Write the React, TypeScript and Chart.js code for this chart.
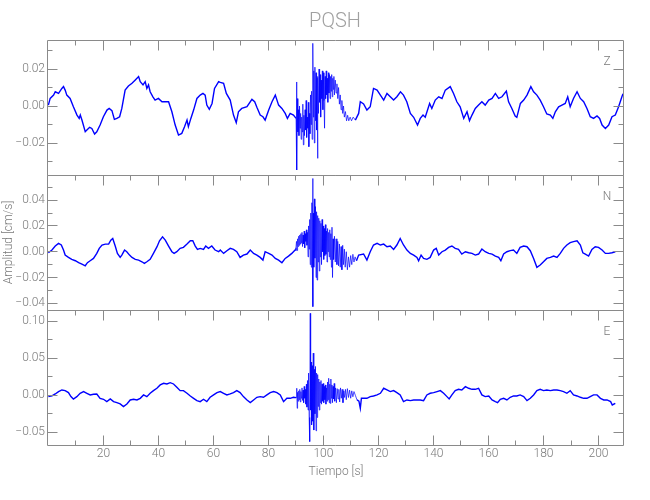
import { useEffect, useRef } from "react";
import { Chart, registerables } from "chart.js";

Chart.register(...registerables);

// ---------- data ----------
const chartTitle = "PQSH";
const xAxisTitle = "Tiempo [s]";
const yAxisTitle = "Amplitud [cm/s]";
const componentNames = ["Z", "N", "E"];

const timeRange = [-0.5, 208.9];
const xMajorTicks = [20, 40, 60, 80, 100, 120, 140, 160, 180, 200];
const xMinorTicks = [10, 30, 50, 70, 90, 110, 130, 150, 170, 190];

const zRange = [-0.0373, 0.0357];
const zMajorTicks = [-0.02, 0, 0.02];
const zMinorTicks = [-0.03, -0.01, 0.01, 0.03];

const nRange = [-0.0452, 0.0595];
const nMajorTicks = [-0.04, -0.02, 0, 0.02, 0.04];
const nMinorTicks = [-0.03, -0.01, 0.01, 0.03, 0.05];

const eRange = [-0.0672, 0.1153];
const eMajorTicks = [-0.05, 0, 0.05, 0.1];
const eMinorTicks = [-0.025, 0.025, 0.075];

// [time s, amplitude cm/s]
const zSamples: [number, number][] = [
  [0, 0.0005], [0.65, 0.0041], [1.9, 0.0059], [2.5, 0.0077], [3.7, 0.0068], [4.9, 0.0095], [5.5, 0.0105],
  [6.1, 0.0086], [6.7, 0.0059], [7.9, 0.0041], [9.1, -0.0004], [10.4, -0.0049], [11.2, -0.0067], [11.6, -0.0049],
  [12.2, -0.0076], [13.4, -0.0139], [14, -0.013], [15, -0.0115], [15.8, -0.0121], [16.8, -0.0151], [17.6, -0.0139],
  [18.8, -0.0103], [20, -0.0058], [21.3, -0.0022], [22.1, -0.0013], [23.1, -0.0025], [24, -0.0072], [24.9, -0.0067],
  [25.9, -0.0058], [26.7, -0.0013], [27.9, 0.0086], [29.1, 0.0108], [30.4, 0.0123], [31.6, 0.0141], [32.8, 0.0159],
  [33.4, 0.0132], [34.4, 0.0114], [35.2, 0.0132], [35.8, 0.0095], [36.4, 0.0114], [37, 0.0077], [38, 0.005],
  [38.8, 0.0032], [40, 0.0041], [41.3, 0.0023], [42.5, 0.0023], [43.7, 0.0023], [44.9, -0.0031], [46.1, -0.0103],
  [47.3, -0.0157], [48.5, -0.0148], [49.5, -0.0112], [50.4, -0.0076], [50.9, -0.0112], [51.8, -0.0067], [52.8, -0.0022],
  [54, 0.0041], [55.2, 0.0059], [56.2, 0.0068], [57, 0.0059], [57.6, 0.0005], [58.5, -0.0018], [59.5, 0.0014],
  [60.4, 0.0095], [61.9, 0.0132], [62.5, 0.0128], [63.7, 0.0123], [64.7, 0.0068], [66.1, 0.0032], [67.3, -0.0049],
  [68.3, -0.009], [69.1, -0.0031], [70.3, -0.0013], [72.2, -0.0004], [74, 0.0036], [75, 0.0023], [75.8, -0.0007],
  [77, -0.0049], [78, -0.0058], [78.8, -0.0076], [80.1, -0.0022], [81.3, 0.0023], [82.5, 0.0059], [83.7, 0.0005],
  [84.9, -0.0013], [86.1, -0.004], [86.9, -0.0067], [87.9, -0.004], [89.1, -0.0049], [90.05, -0.0067],
  [90.2, 0.013], [90.35, -0.0346], [90.5, 0.004], [90.7, -0.014], [90.9, -0.002], [91.1, -0.016], [91.3, 0.0],
  [91.5, -0.012], [91.7, -0.004], [91.9, -0.018], [92.1, -0.006], [92.3, -0.014], [92.5, 0.001], [92.7, -0.021],
  [92.9, -0.005], [93.1, -0.016], [93.3, -0.002], [93.5, -0.013], [93.7, 0.003], [93.9, -0.017], [94.1, -0.006],
  [94.3, -0.012], [94.5, 0.002], [94.7, -0.022], [94.9, -0.004], [95.1, -0.015], [95.3, 0.006], [95.5, -0.01],
  [95.7, 0.008], [95.9, -0.018], [96.05, 0.012], [96.2, 0.0339], [96.35, -0.006], [96.5, 0.019], [96.7, -0.02],
  [96.9, 0.021], [97.1, -0.008], [97.3, 0.018], [97.5, -0.013], [97.7, 0.015], [97.85, -0.0283], [98.0, 0.016],
  [98.2, -0.004], [98.4, 0.02], [98.6, 0.002], [98.8, 0.017], [99.0, -0.006], [99.2, 0.014], [99.4, 0.004],
  [99.6, 0.019], [99.8, -0.002], [100.0, 0.018], [100.2, 0.003], [100.4, -0.012], [100.6, 0.016], [100.8, 0.004],
  [101.0, 0.019], [101.2, 0.006], [101.4, 0.015], [101.6, 0.002], [101.8, 0.018], [102.0, 0.007], [102.2, 0.017],
  [102.4, 0.004], [102.6, 0.016], [102.8, 0.008], [103.0, 0.017], [103.2, 0.005], [103.4, 0.015], [103.6, 0.009],
  [103.8, 0.016], [104.0, 0.006], [104.3, 0.014], [104.6, 0.007], [104.9, 0.012], [105.2, 0.004], [105.5, 0.01],
  [105.8, 0.001], [106.1, 0.006], [106.4, -0.002], [106.7, 0.003], [107.0, -0.004], [107.3, 0.0], [107.6, -0.006],
  [108.0, -0.003], [108.4, -0.008], [108.8, -0.005], [109.2, -0.008], [109.7, -0.006], [110.2, -0.008],
  [110.8, -0.006], [111.6, -0.0076],
  [112.8, -0.004], [113.4, 0.0023], [114.6, 0.0011], [115.8, -0.0022], [117, -0.0004], [118.2, 0.0095],
  [119.5, 0.0086], [120.7, 0.0059], [121.9, 0.0032], [123.1, 0.0068], [124.3, 0.005], [125.5, 0.0032],
  [126.7, 0.005], [128, 0.0077], [129.1, 0.0059], [130.3, 0.0023], [131.6, -0.004], [132.8, -0.0061],
  [134.2, -0.0103], [135.2, -0.0067], [136.2, -0.0049], [137, -0.0061], [138.6, 0.0014], [139.4, -0.0013],
  [140.65, 0.0032], [141.9, 0.005], [143.1, 0.0041], [144.3, 0.0086], [146.1, 0.0105], [147.3, 0.0068],
  [148.5, 0.0023], [149.7, -0.0004], [151, -0.0067], [152.2, -0.0031], [153.1, -0.0079], [154, -0.0049],
  [155.2, -0.0013], [156.4, 0.0005], [157.6, 0.0023], [158.8, 0.0005], [160.1, 0.0032], [161.3, 0.0041],
  [162.5, 0.0068], [163.7, 0.0041], [164.9, 0.005], [166.5, 0.0081], [167.3, 0.0023], [168.5, -0.0013],
  [169.7, -0.0054], [170.3, -0.0061], [171.6, 0.0014], [172.8, 0.0032], [174, 0.0059], [175.4, 0.0105],
  [176.4, 0.0077], [177.6, 0.0059], [178.8, 0.0032], [180, -0.0004], [181.2, -0.0043], [182.5, -0.0049],
  [183.4, -0.0067], [184.3, -0.0031], [185.5, -0.0004], [186.7, 0.0005], [187.9, 0.0014], [188.8, 0.005],
  [189.7, -0.0004], [190.9, 0.0041], [192.2, 0.0077], [193.4, 0.0041], [194.6, 0.0023], [195.8, -0.0013],
  [197, -0.0058], [198.2, -0.0067], [199.45, -0.0054], [200.4, -0.0067], [201.3, -0.0103], [202.5, -0.0121],
  [203.7, -0.0103], [204.9, -0.0058], [206.1, -0.0049], [207.3, -0.0004], [208.5, 0.005], [208.9, 0.0066],
];

const nSamples: [number, number][] = [
  [0, -0.0008], [1.3, 0.0013], [2.5, 0.0044], [3.7, 0.0065], [4.7, 0.0052], [5.5, 0.0013], [6.1, -0.0026],
  [7.3, -0.0044], [8.5, -0.0059], [9.8, -0.007], [11, -0.0085], [12.2, -0.0096], [13.4, -0.0109], [14.2, -0.0085],
  [15.2, -0.007], [16.4, -0.0052], [17.6, -0.0013], [18.5, 0.0026], [19.5, 0.0052], [20.7, 0.0059], [21.9, 0.0059],
  [22.7, 0.009], [23.4, 0.0103], [24.3, 0.0044], [25.1, -0.0013], [26.1, -0.0044], [26.7, -0.0026], [27.7, 0.0013],
  [28.5, 0.0], [29.5, -0.0026], [30.4, -0.0044], [31.6, -0.0059], [32.8, -0.0065], [34, -0.0078], [34.9, -0.009],
  [35.8, -0.0078], [37, -0.0059], [38.2, -0.0013], [39.5, 0.0039], [40.4, 0.0085], [41.5, 0.0116], [42.5, 0.009],
  [43.7, 0.0044], [44.9, 0.0], [45.7, -0.0013], [46.7, 0.0], [47.9, 0.0026], [49.1, 0.0034], [50.4, 0.0059],
  [51.6, 0.0085], [52.5, 0.0085], [53.4, 0.0044], [54.2, 0.0018], [55.2, 0.0026], [56.4, 0.0018], [57.2, 0.0044],
  [58.2, 0.0026], [59.4, 0.0044], [60.6, 0.0013], [61.9, 0.0], [62.5, 0.0013], [63.7, -0.0013], [64.9, 0.0008],
  [66.1, 0.0026], [67.3, 0.0018], [68.5, 0.0], [69.7, -0.0044], [70.9, -0.0026], [72.2, -0.0018], [73.4, 0.0013],
  [74.6, -0.0013], [75.8, -0.0026], [77, -0.0044], [78, -0.0065], [78.8, 0.0], [80.1, -0.0013], [81.3, -0.0026],
  [82.5, -0.0052], [83.7, -0.0065], [84.9, -0.0085], [86.1, -0.0052], [87.3, -0.0034], [88.5, -0.0013],
  [89.7, 0.0013],
  [90.0, 0.003], [90.2, 0.008], [90.4, 0.001], [90.6, 0.01], [90.8, 0.004], [91.0, 0.012], [91.2, 0.005],
  [91.4, 0.013], [91.6, 0.006], [91.8, 0.014], [92.0, 0.007], [92.2, 0.015], [92.4, 0.004], [92.6, 0.013],
  [92.8, 0.006], [93.0, 0.016], [93.2, 0.003], [93.4, 0.014], [93.6, 0.008], [93.8, 0.017], [94.0, 0.005],
  [94.2, 0.015], [94.4, -0.004], [94.6, 0.02], [94.8, 0.002], [95.0, 0.025], [95.2, -0.01], [95.4, 0.03],
  [95.6, -0.012], [95.8, 0.038], [96.0, -0.015], [96.1, 0.0568], [96.2, -0.0426], [96.35, 0.03], [96.5, -0.012],
  [96.7, 0.041], [96.9, -0.005], [97.1, 0.035], [97.3, -0.02], [97.5, 0.031], [97.7, -0.022], [97.9, 0.028],
  [98.1, -0.008], [98.3, 0.026], [98.5, -0.015], [98.7, 0.024], [98.9, -0.004], [99.1, 0.022], [99.3, -0.01],
  [99.5, 0.025], [99.7, 0.0], [99.9, 0.02], [100.1, -0.006], [100.3, 0.018], [100.5, -0.003], [100.7, 0.021],
  [100.9, -0.002], [101.1, 0.016], [101.3, -0.008], [101.5, 0.018], [101.7, 0.0], [101.9, 0.015], [102.1, -0.004],
  [102.3, 0.017], [102.5, -0.006], [102.7, 0.014], [102.9, -0.012], [103.1, 0.019], [103.3, -0.02], [103.5, 0.01],
  [103.7, -0.006], [104.0, 0.012], [104.3, -0.008], [104.6, 0.01], [104.9, -0.01], [105.2, 0.008], [105.5, -0.011],
  [105.8, 0.006], [106.1, -0.012], [106.4, 0.004], [106.7, -0.014], [107.0, 0.005], [107.3, -0.01], [107.6, 0.002],
  [107.9, -0.012], [108.3, 0.0], [108.7, -0.014], [109.1, -0.004], [109.5, -0.012], [109.9, -0.003],
  [110.3, -0.01], [110.7, -0.002], [111.1, -0.008], [111.5, -0.004], [112.0, -0.007],
  [112.8, -0.0026], [114.6, -0.0018], [115.8, -0.0065], [117, 0.0], [118.2, 0.0052], [119.5, 0.0065],
  [120.7, 0.0052], [121.9, 0.0059], [123.1, 0.0039], [124.3, 0.0044], [125.5, 0.0018], [126.7, 0.0052],
  [127.9, 0.0103], [129.1, 0.0052], [130.35, 0.0013], [131.6, -0.0013], [132.8, -0.0026], [134, -0.0044],
  [134.6, -0.007], [135.5, -0.0026], [136.4, -0.0052], [137.6, -0.0059], [138.8, -0.0044], [140.05, 0.0013],
  [141, 0.0026], [141.9, -0.0026], [143.1, 0.0], [144.3, 0.0013], [145.5, 0.0034], [146.7, 0.0044],
  [147.9, 0.0026], [149.1, 0.0018], [150.3, -0.0018], [151.6, 0.0], [152.8, -0.0008], [154, -0.0013],
  [155.2, -0.0026], [156.4, -0.0018], [157.6, 0.0021], [158.8, 0.0], [160.1, -0.0013], [161.3, -0.0018],
  [162.5, -0.0034], [163.7, -0.0044], [164.5, -0.007], [165.5, -0.0018], [166.7, 0.0], [167.9, 0.0008],
  [169.1, 0.0013], [170.3, -0.0013], [171.5, 0.0034], [172.8, 0.0044], [174, 0.0039], [175.2, 0.0008],
  [176.4, -0.0052], [177.6, -0.0121], [178.8, -0.0103], [180, -0.0078], [181.2, -0.0052], [182.5, -0.0044],
  [183.7, -0.0034], [184.9, -0.0044], [186.1, -0.0013], [187.3, 0.0026], [188.5, 0.0052], [189.7, 0.007],
  [190.9, 0.0078], [192.2, 0.0085], [193.4, 0.0052], [194.3, -0.0008], [195.2, -0.0018], [196.4, -0.0034],
  [197.6, 0.0018], [198.8, 0.0039], [200, 0.0034], [201.3, 0.0013], [202.5, -0.0013], [203.7, -0.0013],
  [204.9, -0.0008], [206.1, 0.0],
];

const eSamples: [number, number][] = [
  [0, -0.0018], [1.3, -0.0009], [2.5, 0.0018], [3.7, 0.005], [4.9, 0.0072], [6.1, 0.0063], [7.3, 0.0036],
  [8.2, -0.0018], [9.1, -0.005], [10.35, -0.0018], [11.55, 0.0027], [12.8, 0.005], [14, 0.0027], [15.2, 0.0005],
  [16.4, 0.0014], [17.6, 0.0018], [18.8, -0.0041], [20.05, -0.0054], [21.25, -0.0086], [22.5, -0.005],
  [23.7, -0.0086], [24.9, -0.0099], [26.1, -0.0117], [27.3, -0.0153], [28.55, -0.0117], [29.75, -0.0063],
  [31, -0.0054], [32.2, -0.0063], [33.4, -0.0041], [34.6, 0.0005], [35.8, -0.0018], [37, 0.0027], [38.2, 0.0063],
  [39.45, 0.0095], [40.65, 0.014], [41.9, 0.0162], [43.1, 0.0153], [44.3, 0.0171], [45.5, 0.0153], [46.7, 0.0108],
  [47.9, 0.0063], [49.1, 0.0063], [50.4, 0.0027], [51.6, -0.0009], [52.8, -0.0041], [54, -0.0072], [55.2, -0.0086],
  [56.4, -0.0054], [57.6, -0.0086], [58.8, -0.0027], [60.06, 0.0005], [61.3, 0.0036], [62.5, 0.005], [63.7, 0.0027],
  [64.9, 0.0005], [66.1, 0.0018], [67.3, 0.0036], [68.5, 0.0063], [69.7, 0.0036], [70.9, -0.0018], [72.2, -0.0063],
  [73.4, -0.0099], [74.6, -0.0063], [75.8, -0.0027], [77, -0.0018], [78.2, -0.0027], [79.45, 0.0005],
  [80.65, 0.0036], [81.9, 0.005], [83.1, 0.0036], [84.3, 0.0005], [85.5, -0.0086], [86.7, -0.0041],
  [87.9, -0.0041], [89.1, -0.0027],
  [90.1, -0.0032], [90.3, 0.0095], [90.45, -0.0176], [90.6, 0.004], [90.8, -0.008], [91.0, 0.006], [91.2, -0.006],
  [91.4, 0.008], [91.6, -0.009], [91.8, 0.005], [92.0, -0.004], [92.2, 0.01], [92.4, -0.007], [92.6, 0.007],
  [92.8, -0.01], [93.0, 0.012], [93.2, -0.004], [93.4, 0.008], [93.6, -0.012], [93.8, 0.015], [94.0, -0.016],
  [94.2, 0.02], [94.4, -0.02], [94.6, 0.03], [94.8, -0.03], [95.0, -0.0626], [95.2, 0.1108], [95.35, -0.02],
  [95.5, 0.045], [95.7, -0.04], [95.9, 0.04], [96.1, -0.035], [96.3, 0.057], [96.5, -0.047], [96.7, 0.035],
  [96.9, -0.025], [97.1, 0.039], [97.3, -0.048], [97.5, 0.03], [97.7, -0.03], [97.9, 0.028], [98.1, -0.015],
  [98.3, 0.022], [98.5, -0.02], [98.7, 0.018], [98.9, -0.01], [99.1, 0.02], [99.3, -0.012], [99.5, 0.015],
  [99.7, -0.008], [99.9, 0.016], [100.1, -0.01], [100.3, 0.012], [100.5, -0.006], [100.7, 0.014], [100.9, -0.012],
  [101.1, 0.01], [101.3, -0.008], [101.5, 0.018], [101.7, -0.006], [101.9, 0.023], [102.1, -0.01], [102.3, 0.015],
  [102.5, -0.011], [102.7, 0.022], [102.9, -0.004], [103.1, 0.014], [103.3, -0.01], [103.5, 0.012], [103.7, -0.005],
  [103.9, 0.016], [104.1, -0.008], [104.4, 0.01], [104.7, -0.01], [105.0, 0.009], [105.3, -0.005], [105.6, 0.008],
  [105.9, -0.009], [106.2, 0.01], [106.5, -0.004], [106.8, 0.008], [107.1, -0.01], [107.4, 0.006], [107.7, -0.003],
  [108.0, 0.008], [108.3, -0.006], [108.7, 0.009], [109.1, -0.003], [109.5, 0.007], [109.9, -0.004], [110.3, 0.006],
  [110.7, -0.002], [111.1, 0.005], [111.6, 0.0], [112.2, -0.0063],
  [112.9, -0.008], [113.4, -0.0176], [113.8, -0.004], [114.6, -0.004], [115.8, -0.0041], [117, -0.0018],
  [118.2, -0.0009], [119.5, 0.0005], [120.7, 0.0027], [121.9, 0.0095], [123.1, 0.0072], [124.3, 0.005],
  [125.5, 0.0063], [126.7, 0.0036], [127.9, 0.0005], [129.1, -0.0086], [130.35, -0.0063], [131.6, -0.0072],
  [132.8, -0.0063], [134, -0.0063], [135.2, -0.0063], [136.4, -0.0072], [137.6, 0.0005], [138.8, 0.0027],
  [140.05, 0.0036], [141.3, 0.005], [142.5, 0.0063], [143.7, 0.0027], [144.9, -0.0018], [145.7, -0.005],
  [146.7, 0.0005], [147.9, 0.0063], [149.1, 0.0081], [150.3, 0.0072], [151.6, 0.0117], [152.8, 0.0095],
  [154, 0.0081], [155.2, 0.0081], [156.4, 0.0095], [157.6, 0.0005], [158.8, -0.0018], [160.1, -0.0009],
  [161.3, -0.0063], [162.5, -0.0086], [163.3, -0.0099], [164.3, -0.0054], [165.5, -0.0041], [166.7, -0.0063],
  [167.9, -0.0027], [169.1, -0.0009], [170.3, -0.0009], [171.5, 0.0005], [172.8, -0.0018], [174, -0.0072],
  [175.2, -0.0041], [176.4, 0.0005], [177.6, 0.0063], [178.8, 0.0081], [180, 0.0063], [181.2, 0.0072],
  [182.5, 0.0063], [183.7, 0.0072], [184.9, 0.0072], [186.1, 0.0063], [187.3, 0.005], [188.5, 0.0027],
  [189.7, 0.0063], [190.9, 0.0005], [192.2, -0.0009], [193.4, -0.0027], [194.6, -0.0041], [195.8, -0.0041],
  [197, -0.0018], [198.2, 0.0005], [199.45, 0.0005], [200.7, -0.0041], [201.9, -0.0063], [203.1, -0.0063],
  [204.4, -0.0086], [205, -0.0131], [206.1, -0.0108],
];

// ---------- styling ----------
const FONT = "Roboto, 'Liberation Sans', sans-serif";
const TEXT_COLOR = "#7a7a7a";
const TITLE_COLOR = "#a0a0a0";
const AXIS_COLOR = "#8a8a8a";
const TRACE_COLOR = "#0000ff";

const panels = [
  { id: "yZ", name: componentNames[0], samples: zSamples, range: zRange, major: zMajorTicks, minor: zMinorTicks, burst: [90.0, 111.7], weight: 3 },
  { id: "yN", name: componentNames[1], samples: nSamples, range: nRange, major: nMajorTicks, minor: nMinorTicks, burst: [89.9, 112.1], weight: 2 },
  { id: "yE", name: componentNames[2], samples: eSamples, range: eRange, major: eMajorTicks, minor: eMinorTicks, burst: [90.0, 112.3], weight: 1 },
];

const fmt = (v: number) => (v < 0 ? "\u2212" : "") + Math.abs(v).toFixed(2);

const framePlugin = {
  id: "seismoFrame",
  afterDatasetsDraw(chart: any) {
    const { ctx, chartArea } = chart;
    const xs = chart.scales.x;
    const L = Math.floor(chartArea.left) + 0.5;
    const R = Math.floor(chartArea.right) + 0.5;
    ctx.save();
    ctx.strokeStyle = AXIS_COLOR;
    ctx.lineWidth = 1;
    panels.forEach((p, i) => {
      const s = chart.scales[p.id];
      const T = Math.floor(s.top) + 0.5;
      const B = Math.floor(s.bottom) + 0.5;
      ctx.beginPath();
      ctx.rect(L, T, R - L, B - T);
      const yt = (v: number, len: number) => {
        const y = Math.floor(s.getPixelForValue(v)) + 0.5;
        ctx.moveTo(L, y); ctx.lineTo(L + len, y);
        ctx.moveTo(R, y); ctx.lineTo(R - len, y);
      };
      p.major.forEach((v) => yt(v, 10));
      p.minor.forEach((v) => yt(v, 5));
      const xt = (v: number, len: number, y0: number, dir: number) => {
        const x = Math.floor(xs.getPixelForValue(v)) + 0.5;
        ctx.moveTo(x, y0); ctx.lineTo(x, y0 + dir * len);
      };
      xMajorTicks.forEach((v) => xt(v, 10, T, 1));
      xMinorTicks.forEach((v) => xt(v, 5, T, 1));
      if (i === panels.length - 1) {
        xMajorTicks.forEach((v) => xt(v, 10, B, -1));
        xMinorTicks.forEach((v) => xt(v, 5, B, -1));
      }
      ctx.stroke();
      ctx.fillStyle = TEXT_COLOR;
      ctx.font = `300 12px ${FONT}`;
      ctx.textAlign = "center";
      ctx.textBaseline = "middle";
      ctx.fillText(p.name, chartArea.right - 16, s.top + 22);
    });
    // titles
    ctx.fillStyle = TITLE_COLOR;
    ctx.font = `300 20px ${FONT}`;
    ctx.textAlign = "center";
    ctx.textBaseline = "middle";
    ctx.fillText(chartTitle, (chartArea.left + chartArea.right) / 2, 22);
    ctx.fillStyle = TEXT_COLOR;
    ctx.font = `300 12px ${FONT}`;
    ctx.fillText(xAxisTitle, (chartArea.left + chartArea.right) / 2 + 1, 472);
    ctx.translate(9, (chartArea.top + chartArea.bottom) / 2);
    ctx.rotate(-Math.PI / 2);
    ctx.fillText(yAxisTitle, 0, 0);
    ctx.restore();
  },
};

export default function App() {
  const ref = useRef<HTMLCanvasElement | null>(null);
  useEffect(() => {
    const canvas = ref.current;
    if (!canvas) return;
    const tickFont = { family: FONT, size: 12, weight: 300 as any };
    const scales: any = {
      x: {
        type: "linear",
        position: "bottom",
        min: timeRange[0],
        max: timeRange[1],
        grid: { display: false, drawTicks: false },
        border: { display: false },
        afterBuildTicks: (s: any) => { s.ticks = xMajorTicks.map((v) => ({ value: v })); },
        afterFit: (s: any) => { s.height = 25; },
        ticks: { color: TEXT_COLOR, font: tickFont, padding: 2, maxRotation: 0, autoSkip: false, callback: (v: any) => String(v) },
      },
    };
    panels.forEach((p) => {
      scales[p.id] = {
        type: "linear",
        position: "left",
        stack: "traces",
        stackWeight: 1,
        weight: p.weight,
        offset: false,
        min: p.range[0],
        max: p.range[1],
        grid: { display: false, drawTicks: false },
        border: { display: false },
        afterBuildTicks: (s: any) => { s.ticks = p.major.map((v) => ({ value: v })); },
        afterFit: (s: any) => { s.width = 40; },
        ticks: { color: TEXT_COLOR, font: tickFont, padding: 2, autoSkip: false, callback: (v: any) => fmt(Number(v)) },
      };
    });
    const chart = new Chart(canvas, {
      type: "line",
      data: {
        datasets: panels.map((p) => ({
          label: p.name,
          yAxisID: p.id,
          xAxisID: "x",
          data: p.samples.map(([x, y]) => ({ x, y })),
          borderColor: TRACE_COLOR,
          borderWidth: 1.4,
          pointRadius: 0,
          tension: 0,
          fill: false,
          segment: {
            borderWidth: (c: any) => (c.p0.parsed.x >= p.burst[0] && c.p1.parsed.x <= p.burst[1] ? 0.7 : 1.4),
          },
        })),
      },
      options: {
        animation: false,
        responsive: false,
        devicePixelRatio: 1,
        events: [],
        layout: { padding: { left: 7, right: 27, top: 40, bottom: 30 } },
        plugins: { legend: { display: false }, tooltip: { enabled: false }, title: { display: false } },
        scales,
      } as any,
      plugins: [framePlugin],
    } as any);
    return () => chart.destroy();
  }, []);
  return (
    <div style={{ position: "absolute", left: 0, top: 0, width: 650, height: 500, background: "#fff" }}>
      <canvas ref={ref} width={650} height={500} style={{ display: "block", width: 650, height: 500 }} />
    </div>
  );
}
